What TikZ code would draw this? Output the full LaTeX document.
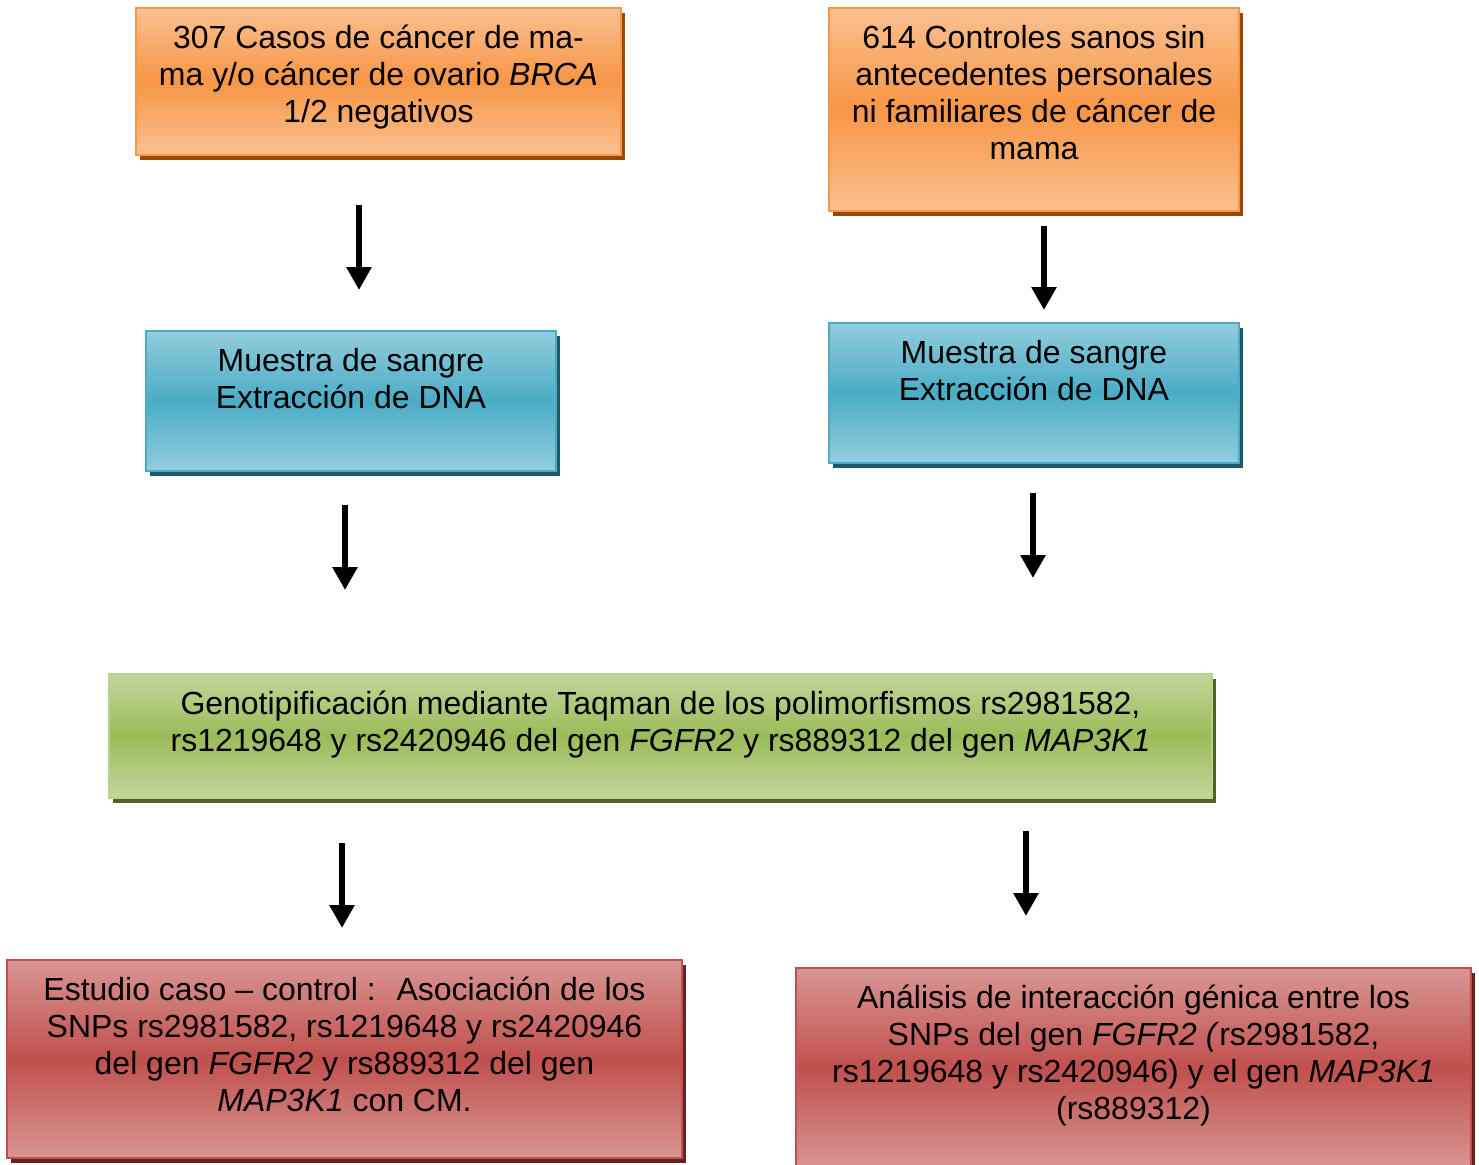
\documentclass[tikz,border=0pt]{standalone}
\usepackage{fontspec}
\setmainfont{Liberation Sans}
\usepackage{tikz}
\usetikzlibrary{arrows.meta,shadows}

\definecolor{orangelight}{HTML}{FAC090}
\definecolor{orangemid}{HTML}{F79646}
\definecolor{orangedark}{HTML}{984807}
\definecolor{bluelight}{HTML}{93CDDD}
\definecolor{bluemid}{HTML}{4BACC6}
\definecolor{bluedark}{HTML}{215968}
\definecolor{greenlight}{HTML}{C3D69B}
\definecolor{greenmid}{HTML}{9BBB59}
\definecolor{greendark}{HTML}{4F6228}
\definecolor{redlight}{HTML}{D99694}
\definecolor{redmid}{HTML}{C0504D}
\definecolor{reddark}{HTML}{632423}

\tikzset{
  box/.style={rectangle, line width=1.1pt, inner sep=0pt},
  orangebox/.style={box, draw=orangemid, top color=orangelight, bottom color=orangelight, middle color=orangemid,
    drop shadow={shadow xshift=0.07cm, shadow yshift=-0.09cm, fill=orangedark, opacity=1}},
  bluebox/.style={box, draw=bluemid, top color=bluelight, bottom color=bluelight, middle color=bluemid,
    drop shadow={shadow xshift=0.07cm, shadow yshift=-0.09cm, fill=bluedark, opacity=1}},
  greenbox/.style={box, draw=greenlight!80!greenmid, top color=greenlight, bottom color=greenlight, middle color=greenmid,
    drop shadow={shadow xshift=0.07cm, shadow yshift=-0.09cm, fill=greendark, opacity=1}},
  redbox/.style={box, draw=redmid, top color=redlight, bottom color=redlight, middle color=redmid,
    drop shadow={shadow xshift=0.07cm, shadow yshift=-0.09cm, fill=reddark, opacity=1}},
  boxtext/.style={anchor=north, align=center, inner sep=0pt, yshift=-0.36cm,
    font=\fontsize{18.2}{21}\selectfont, execute at begin node=\strut},
  flow/.style={line width=3.4pt, -{Triangle[width=0.48cm, length=0.46cm]}}
}

\begin{document}
\begin{tikzpicture}
\useasboundingbox (0,0) rectangle (29.58,-23.28);

\node [orangebox, minimum width=9.7cm, minimum height=2.94cm] (casos) at (7.57,-1.63) {};
\node [boxtext] (casostxt) at (casos.north) {307 Casos de cáncer de ma-\\ma y/o cáncer de ovario \textit{BRCA}\\1/2 negativos};

\node [orangebox, minimum width=8.2cm, minimum height=4.06cm] (controles) at (20.68,-2.19) {};
\node [boxtext] (controlestxt) at (controles.north) {614 Controles sanos sin\\antecedentes personales\\ni familiares de cáncer de\\mama};

\node [bluebox, minimum width=8.2cm, minimum height=2.8cm] (sangrecasos) at (7.02,-8.02) {};
\node [boxtext] (sangrecasostxt) at (sangrecasos.north) {Muestra de sangre\\Extracción de DNA};

\node [bluebox, minimum width=8.2cm, minimum height=2.8cm] (sangrecontroles) at (20.68,-7.86) {};
\node [boxtext] (sangrecontrolestxt) at (sangrecontroles.north) {Muestra de sangre\\Extracción de DNA};

\node [greenbox, minimum width=22.06cm, minimum height=2.48cm] (genotipo) at (13.21,-14.72) {};
\node [boxtext] (genotipotxt) at (genotipo.north) {Genotipificación mediante Taqman de los polimorfismos rs2981582,\\rs1219648 y rs2420946 del gen \textit{FGFR2} y rs889312 del gen \textit{MAP3K1}};

\node [redbox, minimum width=13.5cm, minimum height=3.96cm] (asociacion) at (6.89,-21.18) {};
\node [boxtext] (asociaciontxt) at (asociacion.north) {Estudio caso -- control :~ Asociación de los\\SNPs rs2981582, rs1219648 y rs2420946\\del gen \textit{FGFR2} y rs889312 del gen\\\textit{MAP3K1} con CM.};

\node [redbox, minimum width=13.5cm, minimum height=4.0cm] (interaccion) at (22.67,-21.36) {};
\node [boxtext] (interacciontxt) at (interaccion.north) {Análisis de interacción génica entre los\\SNPs del gen \textit{FGFR2 (}rs2981582,\\rs1219648 y rs2420946) y el gen \textit{MAP3K1}\\(rs889312)};

\coordinate (a1) at (7.18,-4.10);
\coordinate (b1) at (7.18,-5.80);
\coordinate (a2) at (20.88,-4.52);
\coordinate (b2) at (20.88,-6.20);
\coordinate (a3) at (6.90,-10.10);
\coordinate (b3) at (6.90,-11.80);
\coordinate (a4) at (20.66,-9.86);
\coordinate (b4) at (20.66,-11.56);
\coordinate (a5) at (6.84,-16.86);
\coordinate (b5) at (6.84,-18.56);
\coordinate (a6) at (20.52,-16.62);
\coordinate (b6) at (20.52,-18.32);

\foreach \i in {1,...,6}
  \draw [flow] (a\i) -- (b\i);

\end{tikzpicture}
\end{document}
